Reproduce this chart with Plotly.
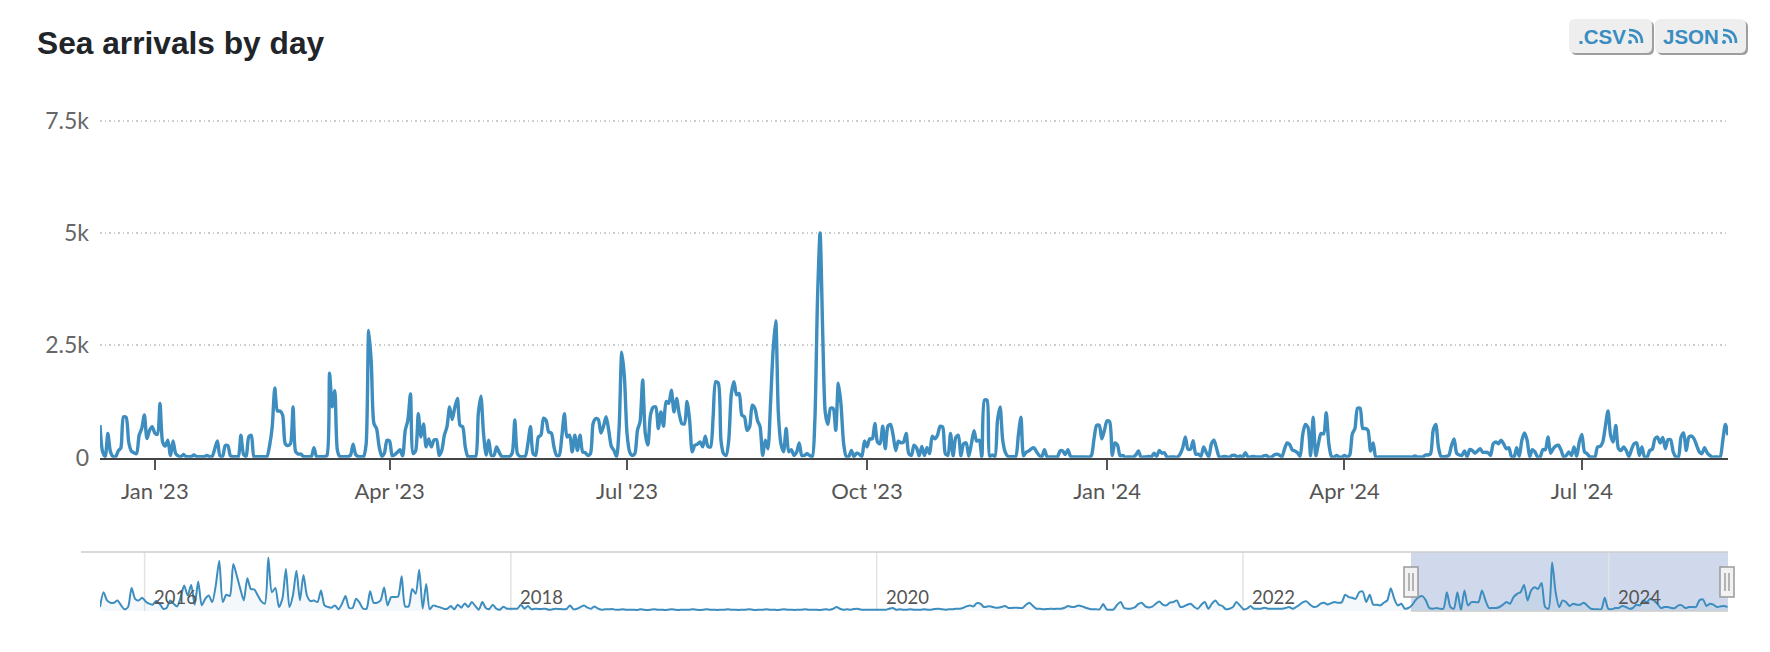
import pandas as pd
import plotly.graph_objects as go

W, H = 1770, 652
TITLE = "Sea arrivals by day"
START = "2022-12-11"
NAV_START = "2015-10-04"
NAV_END = "2024-08-26"
Y_TICKS = [0, 2500, 5000, 7500]
Y_LABELS = ["0", "2.5k", "5k", "7.5k"]
X_TICKS = ["2023-01-01", "2023-04-01", "2023-07-01", "2023-10-01", "2024-01-01", "2024-04-01", "2024-07-01"]
X_LABELS = ["Jan '23", "Apr '23", "Jul '23", "Oct '23", "Jan '24", "Apr '24", "Jul '24"]
NAV_YEARS = [2016, 2018, 2020, 2022, 2024]

arrivals_dec22_mar23 = [
 724,130,25,540,130,25,25,150,220,910, 900,350,150,110,90,500,650,950,425,610,
 690,550,520,1210,350,260,390,50,370,90, 40,25,70,25,25,25,60,25,25,25,
 25,50,25,30,200,370,40,30,270,270, 40,25,25,25,500,80,25,460,500,25,
 25,25,25,25,25,270,680,1550,1040,1040, 950,310,270,310,1130,130,80,80,25,25,
 25,25,220,25,25,25,25,50,1880,1130, 1490,160,25,25,25,25,50,300,70,25,
 25,25,300,2830,2100,760,650,240,30,100, 390,370,40,70,120,180,40,610,830,1420,
 90,160,980,460,750,240,420,240,390,400, 50,160,500,690,1130,850,1120,1320,720,690,
 240,25,25,25,25,980,1370,540,60,390, 50,50,240,120,25]
arrivals_may23_aug23 = [
 25,25,25,100,840,90,25,25,30,310, 690,90,50,460,500,880,830,570,550,240,
 50,50,460,980,460,500,130,500,160,500, 130,110,50,90,760,870,850,550,700,910,
 610,250,160,25,700,2350,1800,540,130,50, 90,610,800,1730,540,280,950,1120,1130,650,
 1020,700,1250,1210,1500,1020,1320,980,760,750, 1250,830,130,280,300,350,240,480,250,240,
 900,1690,1660,390,90,50,390,1430,1690,1400, 1430,950,910,610,690,1170,1100,830,690,50,
 390,200,1200,2400,3050,1000,310,130,650,130, 180,50,120,330,50,50,90,50,25,830]
arrivals_sep23_dec23 = [
 3500,5000,2800,1000,740,1100,1100,610,1660,1200, 330,30,25,160,25,100,80,25,370,240,
 420,420,760,350,310,700,200,700,740,500, 160,370,330,350,540,90,50,280,220,40,
 250,50,220,90,480,420,500,700,680,90, 50,540,40,450,500,40,310,330,30,310,
 600,370,390,20,1280,1280,30,60,25,830, 1130,390,120,30,25,25,25,500,900,40,
 120,150,200,220,130,50,20,180,20,15, 15,15,20,150,150,70,180,30,15,15,
 15,15,15,15,15,50,420,720,720,420, 610,820,800,50,330,280,40,50,15,15,
 15,15,60,150,15,15,15,30,15,100,30,160,100,110,15,15,15,15,15]
arrivals_feb24_aug24 = [
 80,220,460,190,190,380,80,80,30,240, 120,20,310,390,200,20,15,30,15,15,
 50,50,15,40,15,110,15,15,30,15, 15,15,40,50,15,15,60,80,60,15,
 190,330,290,170,150,110,30,520,740,680, 40,900,40,310,540,530,1000,310,30,15,
 50,15,15,50,15,60,530,650,1100,1100, 650,650,610,150,330,15,15,15,15,15,
 15,15,15,15,15,15,15,15,15,15,40,15,15,15,60,60,90,610,740,240,30,20,30,50,
 270,420,100,60,50,150,20,180,160,100, 150,200,120,120,110,50,310,350,310,390,
 310,200,220,30,20,220,30,390,550,390, 20,180,130,20,20,180,180,460,100,200,
 260,280,170,20,50,130,50,240,30,350, 520,130,90,20,15,15,240,250,350,700,
 1040,500,350,720,200,160,240,160,20,180, 310,330,50,240,20,15,160,190,420,460,
 330,450,200,400,400,130,20,20,460,550, 160,460,480,420,270,130,90,220,110,50,
 15,15,15,15,380,740,500]

nav_2015_2017 = [
 400,1880,1060,830,830,1060,560,170,400,2310,1220,1060,1320,960,730,630,990,730,230,300,
 1060,730,460,1390,2540,1550,2610,630,2940,560,1220,1550,890,2540,5020,890,1620,1490,4690,3530,
 2210,1060,3270,2210,2150,1550,960,730,5350,1880,2310,400,1220,4190,400,1550,4030,1060,3600,1550,
 990,1060,890,2050,560,400,330,560,170,730,1490,330,300,1220,830,230,230,1980,830,830,
 1060,2340,560,1390,1390,1450,3470,460,460,2210,1720,4130,230,2710,170,560,460,360,230,230,
 500,170,630,330,760,400,890,500,130,890,300,200,630,230,130,430,230,230,230,230,
 630,230,500,170,230,200,200,230,130,170,230,200,170,200,560,170,230,400,560,330,
 230,460,230,130,170,170,200,130,130,170,130]
nav_2018_2021 = [
 130,130,100,170,130,100,130,170,130,130,100,130,170,130,100,130,130,130,170,130,
 100,130,170,130,130,100,130,130,170,130,130,100,130,130,170,130,100,130,130,170,
 130,130,100,130,170,130,130,100,130,130,170,130,130,130,100,130,170,130,
 230,400,230,130,170,130,200,230,130,130,130,130,130,130,130,130,230,300,
 130,170,130,130,170,130,130,130,170,130,130,200,230,170,130,170,170,230,230,300,
 460,560,460,790,730,400,460,460,360,330,400,500,300,300,330,300,300,630,830,500,
 230,230,170,200,230,200,230,230,330,500,400,430,560,460,330,230,170,170,170,690,170,
 130,170,630,890,300,230,260,360,690,830,460,360,430,730,960,630,560,830,890]
nav_2022_2024 = [
 1060,400,460,630,730,400,230,630,890,230,730,1060,630,500,170,230,400,890,560,170,
 230,500,230,230,230,330,230,230,230,230,230,300,400,230,400,630,890,960,630,400,
 460,730,830,660,790,890,830,860,1620,1390,1320,1220,1880,1950,890,1620,630,630,560,830,1060,
 2280,1220,560,730,230,300,560,1060,1390,1490,1060,300,230,300,230,230,1880,400,230,1880,
 70,2050,560,890,890,890,2050,1060,300,300,300,400,630,890,730,1390,1720,1880,2610,1060,2050,
 2380,2210,2800,400,230,4850,1880,400,1060,890,500,730,630,630,830,560,230,170,170,170,1320,
 230,170,300,300,500,400,230,300,630,560,1060,890,1220,1060,730,300,400,400,300,300,
 560,560,300,400,400,400,1060,1160,500,730,630,400,460,500,400]

arrivals = arrivals_dec22_mar23 + arrivals_may23_aug23 + arrivals_sep23_dec23 + arrivals_feb24_aug24
nav_values = nav_2015_2017 + nav_2018_2021 + nav_2022_2024
dates = pd.date_range(START, periods=len(arrivals), freq="D")
nav_dates = pd.date_range(NAV_START, periods=len(nav_values), freq="7D")

LINE = "#3d8dbf"
fx = lambda p: p / W
fy = lambda p: 1 - p / H

fig = go.Figure()
fig.add_trace(go.Scatter(x=nav_dates, y=nav_values, xaxis="x2", yaxis="y2", mode="lines",
    line=dict(color=LINE, width=2, shape="spline", smoothing=0.7),
    fill="tozeroy", fillcolor="rgba(61,141,191,0.06)", hoverinfo="skip"))
fig.add_trace(go.Scatter(x=dates, y=arrivals, mode="lines",
    line=dict(color=LINE, width=3.4, shape="spline", smoothing=0.7), hoverinfo="skip"))

shapes = []
def rect(x0, y0, x1, y1, fill, line=None, lw=0, layer="above"):
    shapes.append(dict(type="rect", xref="paper", yref="paper", x0=fx(x0), x1=fx(x1), y0=fy(y1), y1=fy(y0),
                       fillcolor=fill, line=dict(color=line or fill, width=lw), layer=layer))
def hline(x0, x1, y, color, lw):
    shapes.append(dict(type="line", xref="paper", yref="paper", x0=fx(x0), x1=fx(x1), y0=fy(y), y1=fy(y),
                       line=dict(color=color, width=lw)))
def vline(x, y0, y1, color, lw):
    shapes.append(dict(type="line", xref="paper", yref="paper", x0=fx(x), x1=fx(x), y0=fy(y0), y1=fy(y1),
                       line=dict(color=color, width=lw)))
def rrect(x0, y0, x1, y1, r, fill, line=None, lw=0):
    a, b, c, d = fx(x0), fx(x1), fy(y0), fy(y1)
    rx, ry = r / W, r / H
    path = (f"M{a+rx},{c} L{b-rx},{c} Q{b},{c} {b},{c-ry} L{b},{d+ry} Q{b},{d} {b-rx},{d} "
            f"L{a+rx},{d} Q{a},{d} {a},{d+ry} L{a},{c-ry} Q{a},{c} {a+rx},{c} Z")
    shapes.append(dict(type="path", xref="paper", yref="paper", path=path, fillcolor=fill,
                       line=dict(color=line or fill, width=lw)))
def rss(x, y):
    # small feed glyph on the buttons
    shapes.append(dict(type="circle", xref="paper", yref="paper", x0=fx(x), x1=fx(x + 4), y0=fy(y), y1=fy(y - 4),
                       fillcolor="#3a8dc0", line=dict(width=0)))
    for r in (6, 11):
        px = f"M{fx(x+1)},{fy(y-3-r)} Q{fx(x+3+r)},{fy(y-3-r)} {fx(x+3+r)},{fy(y-1)}"
        shapes.append(dict(type="path", xref="paper", yref="paper", path=px,
                           line=dict(color="#3a8dc0", width=2.6)))

# navigator selection, gridlines and frame
rect(1411, 552, 1728, 611, "#cfd9eb", layer="below")
for yr in NAV_YEARS:
    shapes.append(dict(type="line", xref="x2", yref="paper", x0=f"{yr}-01-01", x1=f"{yr}-01-01", y0=fy(611), y1=fy(552),
                       line=dict(color="#e3e3e3", width=1.5), layer="below"))
hline(81, 1728, 552, "#cccccc", 1.5)
hline(1411, 1728, 611, "#cccccc", 1.5)
for hx in (1411, 1727):
    rect(hx - 7, 567, hx + 7, 597, "#f2f2f2", "#999999", 1.5)
    vline(hx - 2, 573, 591, "#777777", 1)
    vline(hx + 2, 573, 591, "#777777", 1)

# buttons
rrect(1571, 21, 1654, 55, 6, "#9e9e9e")
rrect(1569, 19, 1652, 53, 6, "#eeeeee")
rrect(1657, 21, 1748, 55, 6, "#9e9e9e")
rrect(1655, 19, 1746, 53, 6, "#eeeeee")
rss(1628, 44)
rss(1722, 44)

annotations = [
    dict(text=f"<b>{TITLE}</b>", xref="paper", yref="paper", x=fx(35), y=fy(43), xanchor="left", yanchor="middle",
         showarrow=False, font=dict(family="Liberation Sans", size=31.7, color="#212529")),
    dict(text="<b>.CSV</b>", xref="paper", yref="paper", x=fx(1576), y=fy(36), xanchor="left", yanchor="middle",
         showarrow=False, font=dict(family="Liberation Sans", size=20.5, color="#3a8dc0")),
    dict(text="<b>JSON</b>", xref="paper", yref="paper", x=fx(1661), y=fy(36), xanchor="left", yanchor="middle",
         showarrow=False, font=dict(family="Liberation Sans", size=20.5, color="#3a8dc0")),
]
for yr in NAV_YEARS:
    annotations.append(dict(text=str(yr), xref="x2", yref="paper", x=f"{yr}-01-01", y=fy(597), xanchor="left", yanchor="middle",
                            xshift=7, showarrow=False, font=dict(family="Lato", size=18.5, color="#555555")))

fig.update_layout(
    width=W, height=H, autosize=False, margin=dict(l=0, r=0, t=0, b=0, autoexpand=False), showlegend=False,
    paper_bgcolor="white", plot_bgcolor="rgba(0,0,0,0)",
    font=dict(family="Lato", color="#555555"),
    shapes=shapes, annotations=annotations,
    xaxis=dict(domain=[fx(100), fx(1728)], range=[START, NAV_END], tickmode="array", tickvals=X_TICKS, ticktext=X_LABELS,
               ticks="outside", ticklen=10, tickwidth=2, tickcolor="#555555", showgrid=False, zeroline=False,
               showline=True, linecolor="#444444", linewidth=2, anchor="y", ticklabelstandoff=3,
               tickfont=dict(family="Lato", size=22, color="#555555")),
    yaxis=dict(domain=[fy(457.7), fy(116.2)], range=[0, 7600], tickmode="array", tickvals=Y_TICKS, ticktext=Y_LABELS,
               gridcolor="#cccccc", griddash="1.5px,3px", gridwidth=1.5, zeroline=False, showline=False, anchor="x",
               ticks="", ticklabelstandoff=10,
               tickfont=dict(family="Lato", size=23, color="#666666")),
    xaxis2=dict(domain=[fx(100), fx(1728)], range=[NAV_START, NAV_END], showticklabels=False, ticks="", showgrid=False,
                zeroline=False, showline=False, anchor="y2"),
    yaxis2=dict(domain=[fy(611), fy(552)], range=[0, 5900], showticklabels=False, ticks="", showgrid=False,
                zeroline=False, showline=False, anchor="x2"),
)

fig.write_html("out.html", config=dict(displayModeBar=False),
               post_script="document.body.style.margin='0';document.body.style.overflow='hidden';")
